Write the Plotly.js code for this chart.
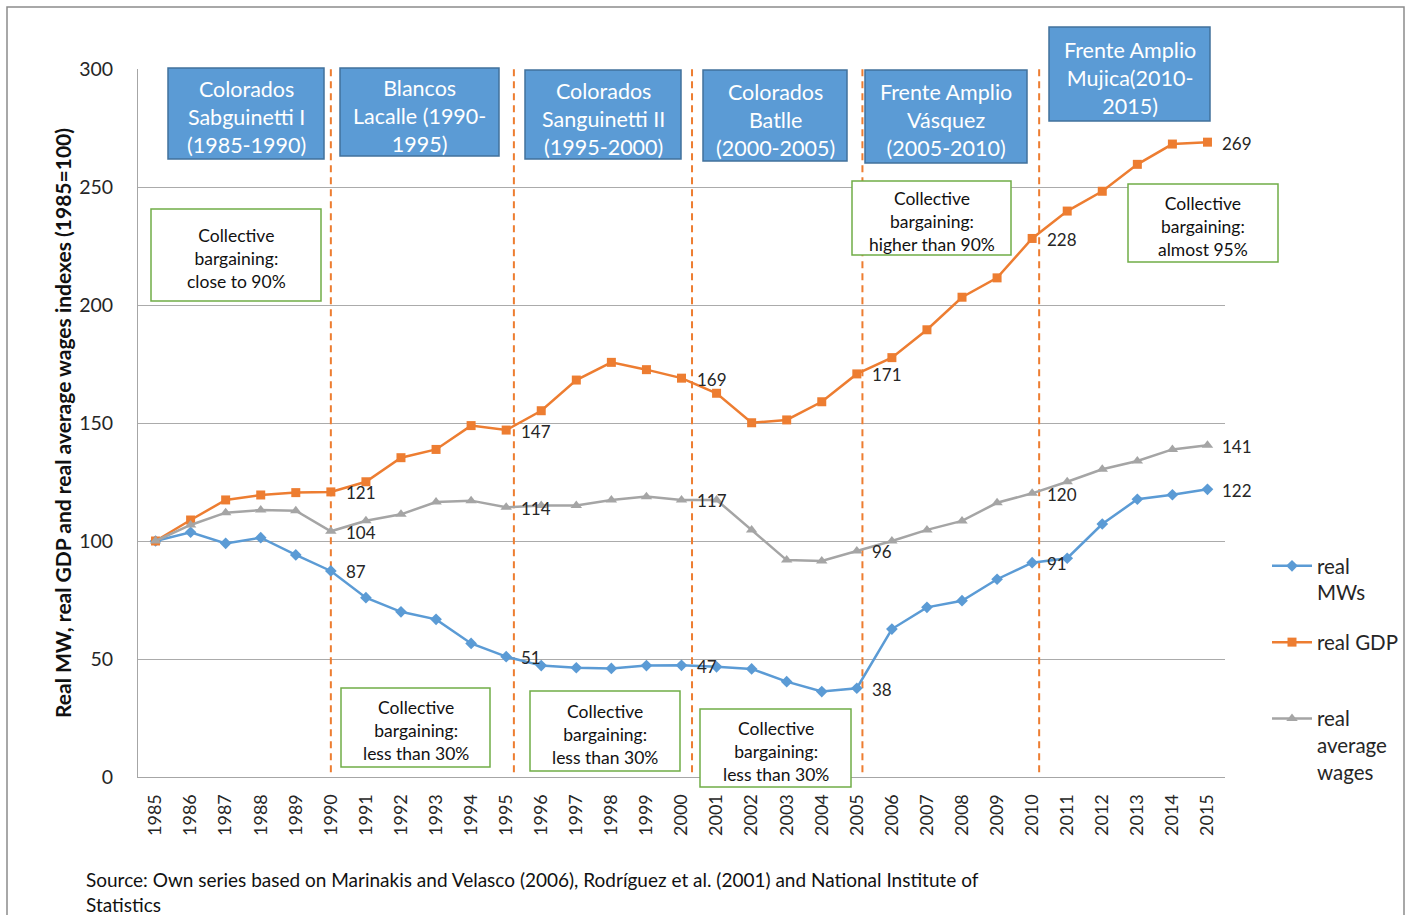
<!DOCTYPE html>
<html>
<head>
<meta charset="utf-8">
<script src="https://cdn.plot.ly/plotly-3.0.1.min.js"></script>
<style>
  html, body { margin: 0; padding: 0; background: #ffffff; overflow: hidden; }
  #chart { width: 1408px; height: 915px; }
</style>
</head>
<body>
<div id="chart"></div>
<script>
// ---------------- DATA ----------------
const years = [1985,1986,1987,1988,1989,1990,1991,1992,1993,1994,1995,1996,1997,1998,1999,2000,
               2001,2002,2003,2004,2005,2006,2007,2008,2009,2010,2011,2012,2013,2014,2015];

const realMW = [100,103.7,99,101.4,94.1,87.3,76,70,66.8,56.6,51,47.2,46.3,46,47.2,47.3,
                46.7,45.8,40.4,36.2,37.6,62.7,71.9,74.7,83.8,90.8,92.7,107.2,117.7,119.6,121.9];

const realGDP = [100,108.9,117.4,119.5,120.5,120.8,125.1,135.3,138.8,148.9,147,155.2,168.2,175.7,172.6,169,
                 162.6,150.1,151.3,159,170.8,177.7,189.5,203.3,211.5,228.2,239.8,248.2,259.6,268.2,269];

const realAvgWages = [100,106.8,112,113.1,112.8,104.1,108.6,111.3,116.5,117.1,114.3,115,115,117.4,118.8,117.4,
                      117.4,104.7,91.9,91.5,95.8,100,104.7,108.5,116.2,120.2,125.1,130.4,133.9,138.8,140.6];

const labelYears = [1990, 1995, 2000, 2005, 2010, 2015];

const seriesNames = ["real<br>MWs", "real GDP<br>\u00a0", "real<br>average<br>wages"];

// government periods (boundaries between them, in years)
const periodBreaks = [1990, 1995.22, 2000.3, 2005.16, 2010.2];

const governments = [
  "Colorados<br>Sabguinetti I<br>(1985-1990)",
  "Blancos<br>Lacalle (1990-<br>1995)",
  "Colorados<br>Sanguinetti II<br>(1995-2000)",
  "Colorados<br>Batlle<br>(2000-2005)",
  "Frente Amplio<br>Vásquez<br>(2005-2010)",
  "Frente Amplio<br>Mujica(2010-<br>2015)"
];

const bargaining = [
  "Collective<br>bargaining:<br>close to 90%",
  "Collective<br>bargaining:<br>less than 30%",
  "Collective<br>bargaining:<br>less than 30%",
  "Collective<br>bargaining:<br>less than 30%",
  "Collective<br>bargaining:<br>higher than 90%",
  "Collective<br>bargaining:<br>almost 95%"
];

const yTitle = "Real MW, real GDP and real average wages indexes (1985=100)";
const sourceText = "Source: Own series based on Marinakis and Velasco (2006), Rodríguez et al. (2001) and National Institute of<br>Statistics";

// ---------------- LAYOUT HELPERS ----------------
const W = 1408, H = 915;
const M = { l: 138, r: 183, t: 69, b: 138, autoexpand: false };
const PW = W - M.l - M.r, PH = H - M.t - M.b;
const px = x => (x - M.l) / PW;
const py = y => (H - M.b - y) / PH;

// box geometry (pixels): [x0, x1, y0, y1]
const govBoxes = [
  [168, 324, 68, 159],
  [340, 499, 68, 156],
  [525, 681, 70, 159],
  [703, 847, 70, 161],
  [865, 1027, 70, 163],
  [1049, 1210, 27, 121]
];
const bargBoxes = [
  [151, 321, 209, 301],
  [341, 490, 688, 767],
  [530, 680, 691, 771],
  [700, 851, 709, 787],
  [852, 1011, 181, 255],
  [1128, 1278, 184, 262]
];

const FONT = "Lato, 'Open Sans', 'Liberation Sans', sans-serif";
const TXT = "#262626";
const BLUE = "#5B9BD5", ORANGE = "#ED7D31", GREY = "#A5A5A5";

// ---------------- TRACES ----------------
const traces = [
  { x: years, y: realMW, name: seriesNames[0], type: "scatter", mode: "lines+markers",
    line: { color: BLUE, width: 2.5 }, marker: { symbol: "diamond", size: 9, color: BLUE },
    legendgroup: "a" },
  { x: years, y: realGDP, name: seriesNames[1], type: "scatter", mode: "lines+markers",
    line: { color: ORANGE, width: 2.5 }, marker: { symbol: "square", size: 9, color: ORANGE },
    legendgroup: "b" },
  { x: years, y: realAvgWages, name: seriesNames[2], type: "scatter", mode: "lines+markers",
    line: { color: GREY, width: 2.5 }, marker: { symbol: "triangle-up", size: 10, color: GREY },
    legendgroup: "c" }
];

// ---------------- SHAPES ----------------
const shapes = [];
periodBreaks.forEach(b => shapes.push({
  type: "line", xref: "x", yref: "y", x0: b, x1: b, y0: 2, y1: 300, layer: "between",
  line: { color: ORANGE, width: 2, dash: "7px,5px" }
}));
govBoxes.forEach(b => shapes.push({
  type: "rect", xref: "paper", yref: "paper", layer: "above",
  x0: px(b[0]), x1: px(b[1]), y0: py(b[3]), y1: py(b[2]),
  fillcolor: BLUE, line: { color: "#41719C", width: 1.5 }
}));
bargBoxes.forEach(b => shapes.push({
  type: "rect", xref: "paper", yref: "paper", layer: "above",
  x0: px(b[0]), x1: px(b[1]), y0: py(b[3]), y1: py(b[2]),
  fillcolor: "#ffffff", line: { color: "#70AD47", width: 1.5 }
}));
// outer chart border
shapes.push({
  type: "rect", xref: "paper", yref: "paper", layer: "above",
  x0: px(7), x1: px(1404), y0: py(925), y1: py(7),
  fillcolor: "rgba(0,0,0,0)", line: { color: "#8c8c8c", width: 1.5 }
});

// ---------------- ANNOTATIONS ----------------
const annotations = [];
govBoxes.forEach((b, i) => annotations.push({
  xref: "paper", yref: "paper", x: px((b[0] + b[1]) / 2), y: py((b[2] + b[3]) / 2 + 4),
  text: governments[i], showarrow: false, xanchor: "center", yanchor: "middle", align: "center",
  font: { family: FONT, size: 21.5, color: "#ffffff" }
}));
bargBoxes.forEach((b, i) => annotations.push({
  xref: "paper", yref: "paper", x: px((b[0] + b[1]) / 2), y: py((b[2] + b[3]) / 2 + 3),
  text: bargaining[i], showarrow: false, xanchor: "center", yanchor: "middle", align: "center",
  font: { family: FONT, size: 17.5, color: "#111111" }
}));
// data labels
[realMW, realGDP, realAvgWages].forEach(arr => {
  labelYears.forEach(yr => {
    const v = arr[years.indexOf(yr)];
    annotations.push({
      xref: "x", yref: "y", x: yr, y: v, text: String(Math.round(v)), showarrow: false,
      xanchor: "left", yanchor: "middle", xshift: 13, yshift: -1,
      font: { family: FONT, size: 17, color: TXT }
    });
  });
});
// y-axis title
annotations.push({
  xref: "paper", yref: "paper", x: px(62), y: 0.5, text: "<b>" + yTitle + "</b>",
  textangle: -90, showarrow: false, xanchor: "center", yanchor: "middle",
  font: { family: FONT, size: 21, color: "#111111" }
});
// source
annotations.push({
  xref: "paper", yref: "paper", x: px(84), y: py(866), text: sourceText, showarrow: false,
  xanchor: "left", yanchor: "top", align: "left",
  font: { family: FONT, size: 19, color: "#111111" }
});

// ---------------- LAYOUT ----------------
const layout = {
  width: W, height: H,
  margin: M,
  paper_bgcolor: "#ffffff", plot_bgcolor: "#ffffff",
  font: { family: FONT, color: TXT },
  showlegend: true,
  legend: {
    x: px(1267), y: py(546), xanchor: "left", yanchor: "top",
    font: { family: FONT, size: 20.5, color: TXT },
    valign: "top", tracegroupgap: 20, bgcolor: "rgba(0,0,0,0)", itemwidth: 40
  },
  xaxis: {
    range: [1984.5, 2015.5], tickmode: "array", tickvals: years, ticktext: years.map(String),
    tickangle: -90, tickfont: { family: FONT, size: 18, color: TXT },
    showgrid: false, zeroline: false, showline: true, linecolor: "#a6a6a6", linewidth: 1,
    ticks: "", ticklabelstandoff: 9
  },
  yaxis: {
    range: [0, 300], dtick: 50, tickfont: { family: FONT, size: 19.5, color: TXT },
    showgrid: true, gridcolor: "#ababab", gridwidth: 1, zeroline: false,
    showline: true, linecolor: "#a6a6a6", linewidth: 1, ticks: "", ticklabelstandoff: 20
  },
  shapes: shapes,
  annotations: annotations
};

Plotly.newPlot("chart", traces, layout, { displayModeBar: false, staticPlot: true });
</script>
</body>
</html>
